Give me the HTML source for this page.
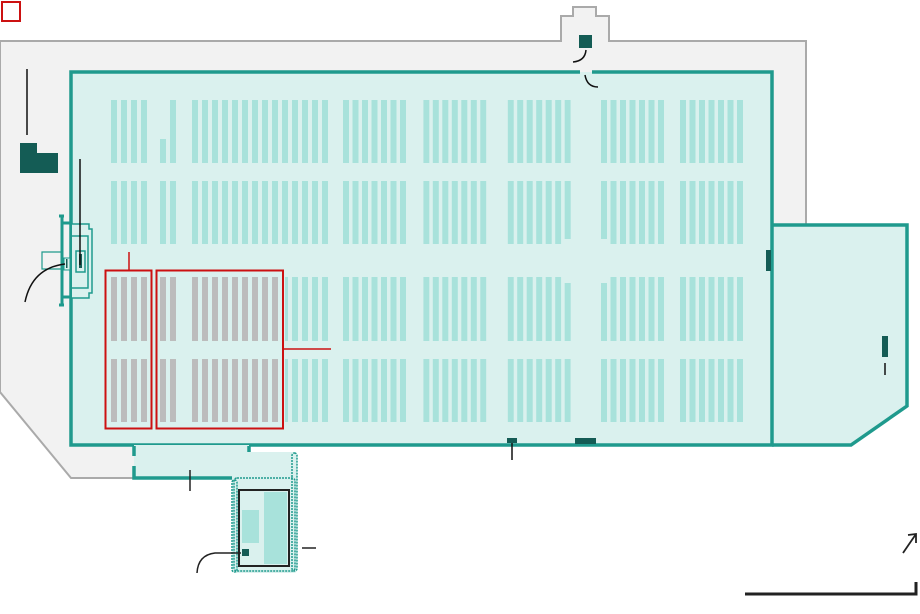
<!DOCTYPE html>
<html><head><meta charset="utf-8"><style>html,body{margin:0;padding:0;background:#fff}svg{display:block}</style></head>
<body>
<svg width="920" height="614" viewBox="0 0 920 614" xmlns="http://www.w3.org/2000/svg">
<defs>
<pattern id="t95" width="9.5" height="1000" patternUnits="userSpaceOnUse"><rect x="0" y="0" width="6" height="1000" fill="#a8e2db"/></pattern>
<pattern id="t10" width="10" height="1000" patternUnits="userSpaceOnUse"><rect x="0" y="0" width="6" height="1000" fill="#a8e2db"/></pattern>
<pattern id="g10" width="10" height="1000" patternUnits="userSpaceOnUse"><rect x="0" y="0" width="6" height="1000" fill="#bcbcbc"/></pattern>
</defs>
<rect x="2" y="2" width="18" height="19" fill="none" stroke="#cc1111" stroke-width="2"/>
<!-- yard -->
<polygon points="0,41 561,41 561,16 573,16 573,7 596,7 596,16 609,16 609,41 806,41 806,225 772,225 772,445 249,445 249,478 71,478 0,392" fill="#f2f2f2" stroke="#aaa" stroke-width="2"/>
<!-- annex -->
<path d="M772,225 L907,225 L907,406 L851,445 L772,445" fill="#daf1ee" stroke="#1f9a8d" stroke-width="3.5"/>
<!-- main building -->
<rect x="71" y="72" width="701" height="373" fill="#daf1ee"/>
<path d="M580,72 L71,72 L71,445 L772,445 L772,72 L592,72" fill="none" stroke="#1f9a8d" stroke-width="3.5"/>
<!-- dock -->
<rect x="134" y="445" width="115" height="33" fill="#daf1ee"/>
<path d="M134,446 V456 M134,466 V478 H249 V466 M249,456 V446" fill="none" stroke="#1f9a8d" stroke-width="3.5"/>
<!-- small building -->
<rect x="232" y="452" width="65" height="121" rx="3" fill="#daf1ee"/>
<rect x="234" y="478" width="61" height="93" rx="3" fill="none" stroke="#1f9a8d" stroke-width="1.5" stroke-dasharray="2 1"/>
<rect x="292" y="453" width="5" height="118" rx="2.5" fill="none" stroke="#1f9a8d" stroke-width="1.5" stroke-dasharray="2 1"/>
<rect x="232" y="480" width="5" height="92" rx="2.5" fill="none" stroke="#1f9a8d" stroke-width="1.5" stroke-dasharray="2 1"/>
<rect x="239" y="490" width="50" height="76" fill="#daf1ee" stroke="#222" stroke-width="2"/>
<rect x="264" y="492" width="23" height="72" fill="#a8e2db"/>
<rect x="242" y="510" width="17" height="33" fill="#a8e2db"/>
<rect x="242" y="549" width="7" height="7" fill="#145c55"/>
<path d="M241,553 H215 Q198,555 197,573" fill="none" stroke="#222" stroke-width="1.5"/>
<line x1="302" y1="548" x2="316" y2="548" stroke="#222" stroke-width="1.5"/>
<line x1="190" y1="470" x2="190" y2="491" stroke="#222" stroke-width="1.5"/>
<!-- rack groups right (pitch 9.5) -->
<g transform="translate(343,0)"><rect x="0" y="100" width="63" height="63" fill="url(#t95)"/><rect x="0" y="181" width="63" height="63" fill="url(#t95)"/><rect x="0" y="277" width="63" height="64" fill="url(#t95)"/><rect x="0" y="359" width="63" height="63" fill="url(#t95)"/></g>
<g transform="translate(423.3,0)"><rect x="0" y="100" width="63" height="63" fill="url(#t95)"/><rect x="0" y="181" width="63" height="63" fill="url(#t95)"/><rect x="0" y="277" width="63" height="64" fill="url(#t95)"/><rect x="0" y="359" width="63" height="63" fill="url(#t95)"/></g>
<g transform="translate(507.7,0)"><rect x="0" y="100" width="63" height="63" fill="url(#t95)"/><rect x="0" y="181" width="53.5" height="63" fill="url(#t95)"/><rect x="57" y="181" width="6" height="58" fill="#a8e2db"/><rect x="0" y="277" width="53.5" height="64" fill="url(#t95)"/><rect x="57" y="283" width="6" height="58" fill="#a8e2db"/><rect x="0" y="359" width="63" height="63" fill="url(#t95)"/></g>
<g transform="translate(601,0)"><rect x="0" y="100" width="63" height="63" fill="url(#t95)"/><rect x="0" y="181" width="6" height="58" fill="#a8e2db"/><rect x="9.5" y="181" width="53.5" height="63" fill="url(#t95)"/><rect x="0" y="283" width="6" height="58" fill="#a8e2db"/><rect x="9.5" y="277" width="53.5" height="64" fill="url(#t95)"/><rect x="0" y="359" width="63" height="63" fill="url(#t95)"/></g>
<g transform="translate(680,0)"><rect x="0" y="100" width="63" height="63" fill="url(#t95)"/><rect x="0" y="181" width="63" height="63" fill="url(#t95)"/><rect x="0" y="277" width="63" height="64" fill="url(#t95)"/><rect x="0" y="359" width="63" height="63" fill="url(#t95)"/></g>
<!-- left groups (pitch 10) -->
<g transform="translate(111,0)">
<rect x="0" y="100" width="36" height="63" fill="url(#t10)"/><rect x="0" y="181" width="36" height="63" fill="url(#t10)"/>
<rect x="0" y="277" width="36" height="64" fill="url(#g10)"/><rect x="0" y="359" width="36" height="63" fill="url(#g10)"/>
</g>
<g transform="translate(160,0)">
<rect x="0" y="139" width="6" height="24" fill="#a8e2db"/><rect x="10" y="100" width="6" height="63" fill="#a8e2db"/>
<rect x="0" y="181" width="16" height="63" fill="url(#t10)"/>
<rect x="0" y="277" width="16" height="64" fill="url(#g10)"/><rect x="0" y="359" width="16" height="63" fill="url(#g10)"/>
</g>
<g transform="translate(192,0)">
<rect x="0" y="100" width="136" height="63" fill="url(#t10)"/><rect x="0" y="181" width="136" height="63" fill="url(#t10)"/>
<rect x="0" y="277" width="86" height="64" fill="url(#g10)"/><rect x="0" y="359" width="86" height="63" fill="url(#g10)"/>
<rect x="93" y="277" width="43" height="64" fill="url(#t10)"/><rect x="93" y="359" width="43" height="63" fill="url(#t10)"/>
</g>
<!-- red boxes -->
<rect x="105.5" y="270.5" width="46" height="158" fill="none" stroke="#cc1111" stroke-width="2"/>
<rect x="156.5" y="270.5" width="126.5" height="158" fill="none" stroke="#cc1111" stroke-width="2"/>
<line x1="129" y1="252" x2="129" y2="270" stroke="#cc1111" stroke-width="1.5"/>
<line x1="283" y1="349" x2="331" y2="349" stroke="#cc1111" stroke-width="1.5"/>
<!-- left door structure -->
<path d="M62,216 V305 M59,216 H64 M59,305 H64 M62,223 H72 M62,297 H72" fill="none" stroke="#1f9a8d" stroke-width="3"/>
<path d="M72,224 H89 V229 H92 V293 H89 V298 H72" fill="#daf1ee" stroke="#1f9a8d" stroke-width="1.5"/>
<path d="M72,236 H88 V288 H72" fill="none" stroke="#1f9a8d" stroke-width="1.5"/>
<rect x="76" y="251" width="9" height="21" fill="#daf1ee" stroke="#1f9a8d" stroke-width="1.5"/>
<rect x="79" y="254" width="3" height="14" fill="#145c55"/>
<path d="M62,252 H42 V269 H62" fill="none" stroke="#1f9a8d" stroke-width="1.2"/>
<rect x="64" y="258" width="6" height="12" fill="#daf1ee" stroke="#1f9a8d" stroke-width="1"/>
<rect x="66" y="259" width="1.5" height="9" fill="#145c55"/>
<line x1="80" y1="159" x2="80" y2="265" stroke="#111" stroke-width="1.5"/>
<path d="M65,264 Q32,268 25,302" fill="none" stroke="#111" stroke-width="1.5"/>
<!-- top-left dark block -->
<line x1="27" y1="69" x2="27" y2="135" stroke="#111" stroke-width="1.5"/>
<polygon points="20,143 37,143 37,153 58,153 58,173 20,173" fill="#145c55"/>
<!-- top door -->
<rect x="579" y="35" width="13" height="13" fill="#145c55"/>
<path d="M586,50 Q585,61 573,62" fill="none" stroke="#111" stroke-width="1.5"/>
<path d="M585,75 Q587,87 598,87" fill="none" stroke="#111" stroke-width="1.5"/>
<!-- misc dark marks -->
<rect x="766" y="250" width="5" height="21" fill="#145c55"/>
<rect x="882" y="336" width="6" height="21" fill="#145c55"/>
<line x1="885" y1="363" x2="885" y2="375" stroke="#111" stroke-width="1.5"/>
<rect x="507" y="438" width="10" height="5" fill="#145c55"/>
<line x1="512" y1="443" x2="512" y2="460" stroke="#111" stroke-width="1.5"/>
<rect x="575" y="438" width="21" height="6" fill="#145c55"/>
<!-- scale + north -->
<path d="M745,594 H916 V582" fill="none" stroke="#222" stroke-width="3"/>
<path d="M903,553 L916,534 M908,535 L916,534 L916,543" fill="none" stroke="#222" stroke-width="1.8"/>
</svg>
</body></html>
